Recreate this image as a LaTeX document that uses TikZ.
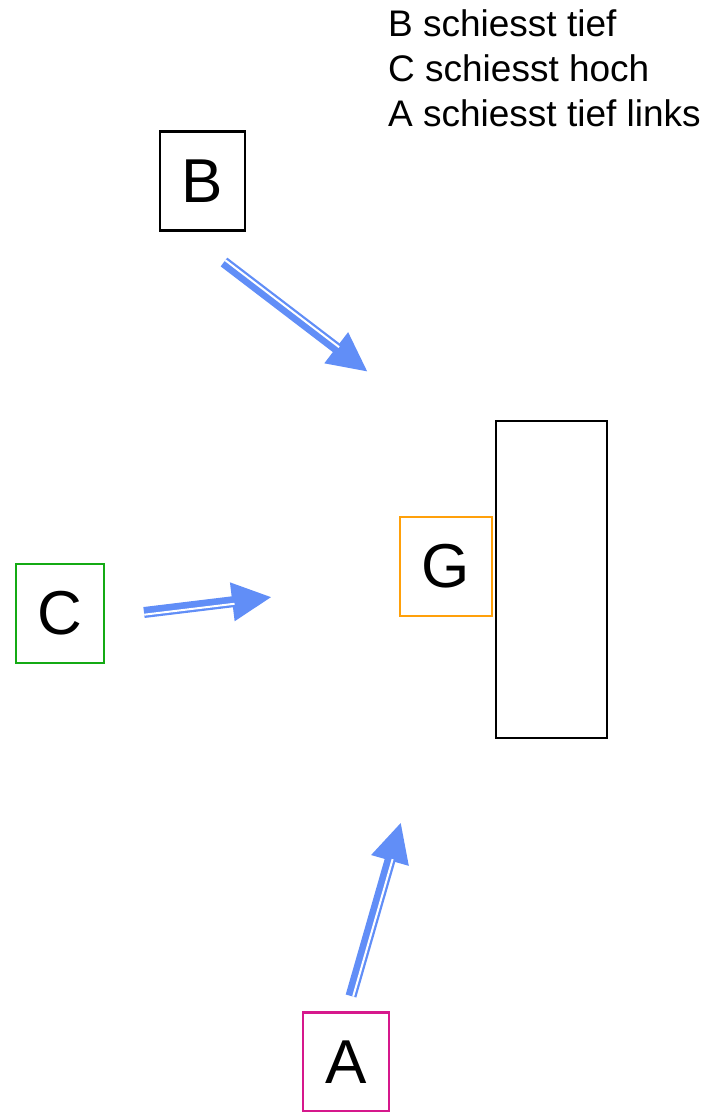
\documentclass[tikz,border=0pt]{standalone}
\usepackage{fontspec}
\setmainfont{Liberation Sans}
\usetikzlibrary{arrows.meta,calc}
\definecolor{shotblue}{RGB}{97,142,247}
\definecolor{cgreen}{RGB}{20,170,20}
\definecolor{corange}{RGB}{255,160,10}
\definecolor{cmagenta}{RGB}{214,24,140}
\begin{document}
\begin{tikzpicture}[x = 1pt, y = -1pt,
    player/.style = {draw, line width = 2.5pt, rectangle, inner sep = 0pt,
        minimum width = 85pt, minimum height = 99pt, font = \fontsize{62}{70}\selectfont},
    shot/.style = {draw = shotblue, line width = 11pt, -{Triangle[length = 40pt, width = 36pt]}},
    gap/.style = {draw = white, line width = 2pt}]
        \useasboundingbox (0, 0) rectangle (724, 1112);
        \node[anchor = north west, inner sep = 0pt, align = left,
            font = \fontsize{37}{45}\selectfont] (info) at (388, 9)
            {B schiesst tief\\C schiesst hoch\\A schiesst tief links};
        \node[player] (B) at (202.5, 181) {B};
        \node[player, draw = cgreen, minimum width = 88pt] (C) at (60, 613.5) {C};
        \node[player, draw = corange, minimum width = 92pt] (G) at (446, 566.5) {G};
        \node[player, draw = cmagenta, minimum width = 86pt] (A) at (346, 1062) {A};
        \node[draw, line width = 2.5pt, inner sep = 0pt, minimum width = 111pt,
            minimum height = 317pt] (tor) at (551.5, 579.5) {};
        \coordinate (Bs) at (224, 262);
        \coordinate (Be) at (368, 372);
        \coordinate (Cs) at (144, 612.5);
        \coordinate (Ce) at (272, 597);
        \coordinate (As) at (351, 996);
        \coordinate (Ae) at (401, 822);
        \foreach \s/\e/\side/\oside in {Bs/Be/90/-90, Cs/Ce/-90/90, As/Ae/-90/90}{
            \draw[shot] (\s) -- (\e);
            \coordinate (tb) at ($(\e)!38pt!(\s)$);
            \draw[gap] ($(\s)!2.2pt!\side:(\e)$) -- ($(tb)!2.2pt!\oside:(\s)$);
        }
    \end{tikzpicture}
\end{document}
